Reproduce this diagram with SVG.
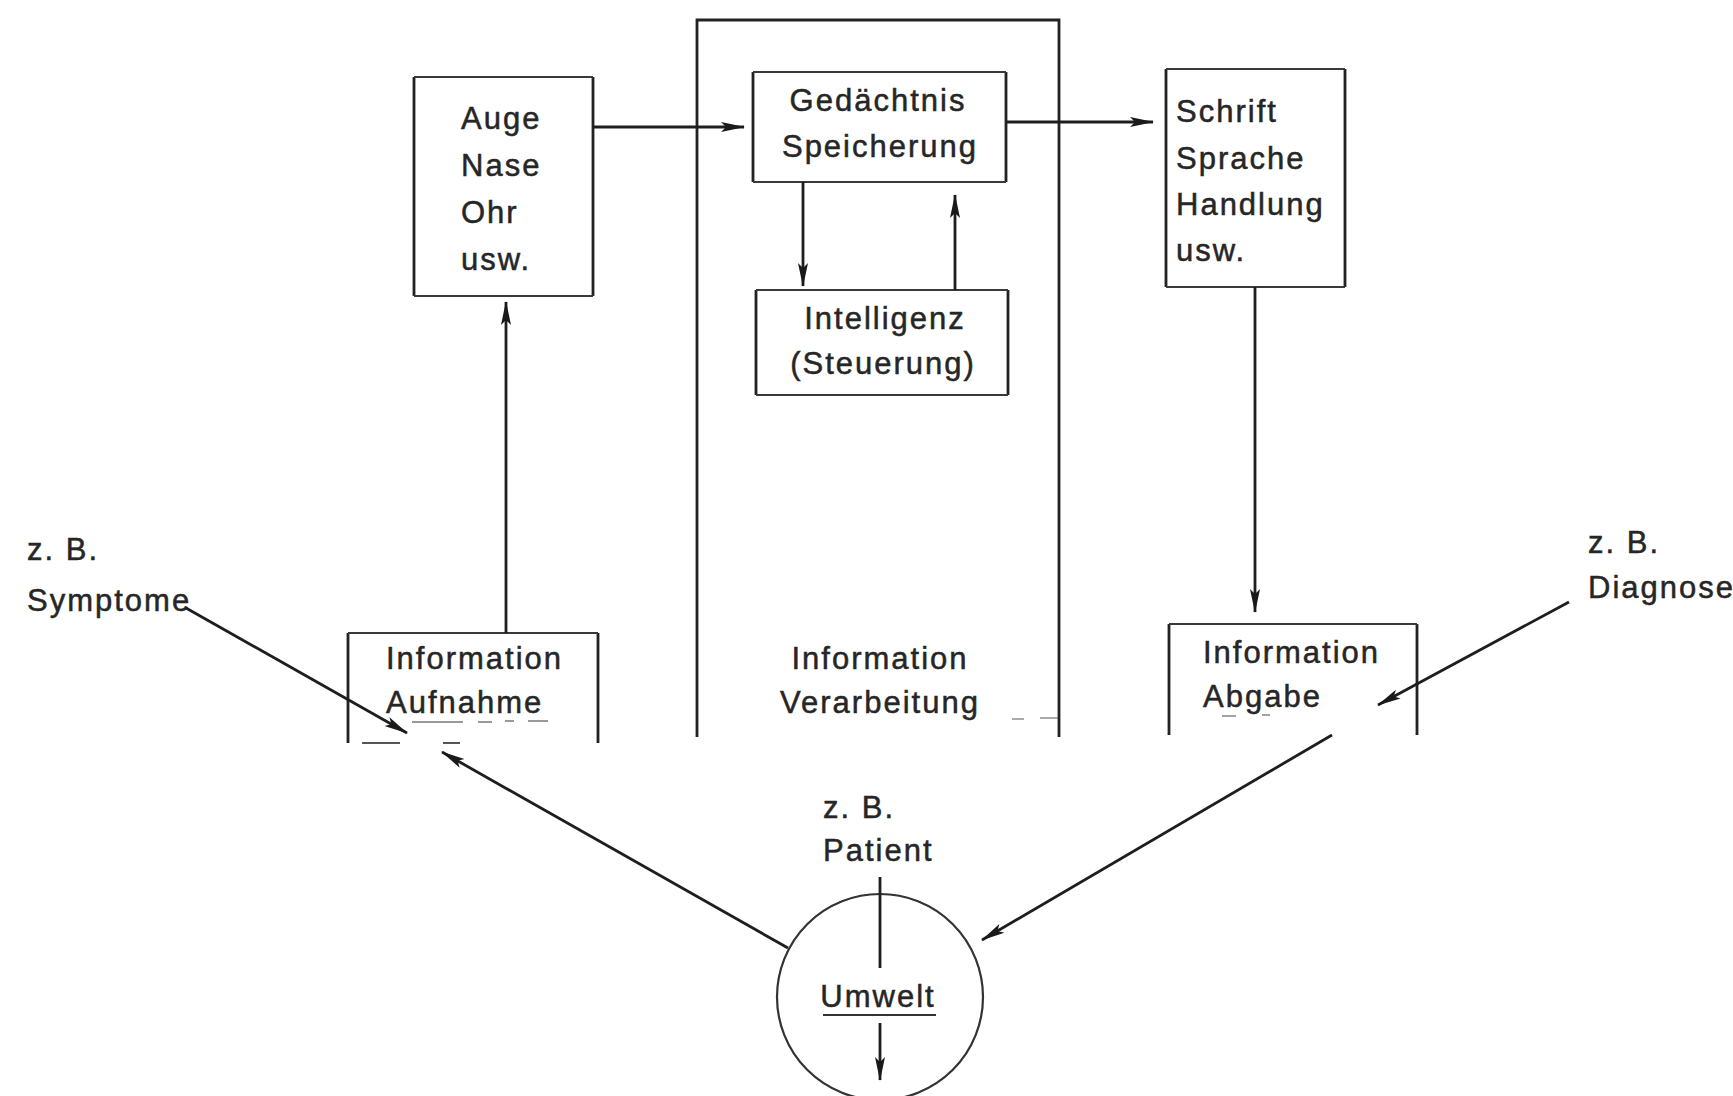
<svg xmlns="http://www.w3.org/2000/svg" width="1733" height="1096" viewBox="0 0 1733 1096">
  <style>
    .lbl { font-family: "Liberation Sans", Arial, sans-serif; font-size: 31px; letter-spacing: 2px; fill: #262626; stroke: #262626; stroke-width: 0.5; }
    .mid { text-anchor: middle; }
    .side { stroke: #222; stroke-width: 2.8; fill: none; }
    .edge { stroke: #3a3a3a; stroke-width: 2.2; fill: none; }
    .wire { stroke: #1e1e1e; stroke-width: 2.8; fill: none; }
    .thin { stroke: #333; stroke-width: 2.2; fill: none; }
    .faint { stroke: #555; stroke-width: 2; fill: none; }
  </style>
  <defs>
    <marker id="head" viewBox="0 0 24 12" refX="23" refY="6" markerWidth="24" markerHeight="12" markerUnits="userSpaceOnUse" orient="auto">
      <path d="M0,1 L24,6 L0,11 L5,6 Z" fill="#1a1a1a"/>
    </marker>
  </defs>
  <rect width="1733" height="1096" fill="#fff"/>

  <!-- processing frame, open at the bottom -->
  <g id="frame-verarbeitung">
    <path class="side" d="M697,737 V20 H1059 V737"/>
    <text class="lbl mid" x="880" y="669">Information</text>
    <text class="lbl mid" x="880" y="713">Verarbeitung</text>
    <path class="faint" d="M1012,719 H1024 M1040,718 H1058" stroke-opacity="0.5"/>
  </g>

  <g id="node-sinne">
    <path class="side" d="M414,77 V296 M593,77 V296"/>
    <path class="edge" d="M414,77 H593 M414,296 H593"/>
    <text class="lbl" x="461" y="129">Auge</text>
    <text class="lbl" x="461" y="176">Nase</text>
    <text class="lbl" x="461" y="223">Ohr</text>
    <text class="lbl" x="461" y="270">usw.</text>
  </g>

  <g id="node-gedaechtnis">
    <path class="side" d="M753,72 V182 M1006,72 V182"/>
    <path class="edge" d="M753,72 H1006 M753,182 H1006"/>
    <text class="lbl mid" x="878" y="111">Gedächtnis</text>
    <text class="lbl mid" x="880" y="157">Speicherung</text>
  </g>

  <g id="node-intelligenz">
    <path class="side" d="M756,290 V395 M1008,290 V395"/>
    <path class="edge" d="M756,290 H1008 M756,395 H1008"/>
    <text class="lbl mid" x="885" y="329">Intelligenz</text>
    <text class="lbl mid" x="883" y="374">(Steuerung)</text>
  </g>

  <g id="node-ausdruck">
    <path class="side" d="M1166,69 V287 M1345,69 V287"/>
    <path class="edge" d="M1166,69 H1345 M1166,287 H1345"/>
    <text class="lbl" x="1176" y="122">Schrift</text>
    <text class="lbl" x="1176" y="169">Sprache</text>
    <text class="lbl" x="1176" y="215">Handlung</text>
    <text class="lbl" x="1176" y="261">usw.</text>
  </g>

  <g id="node-aufnahme">
    <path class="side" d="M348,633 V743 M598,633 V743"/>
    <path class="edge" d="M348,633 H598"/>
    <path class="faint" d="M362,743 H400 M443,743 H460"/>
    <text class="lbl" x="386" y="669">Information</text>
    <text class="lbl" x="386" y="713">Aufnahme</text>
    <path class="faint" d="M412,722 H463 M478,722 H492 M505,721 H514 M528,721 H548" stroke-opacity="0.6"/>
  </g>

  <g id="node-abgabe">
    <path class="side" d="M1169,624 V735 M1417,624 V735"/>
    <path class="edge" d="M1169,624 H1417"/>
    <text class="lbl" x="1203" y="663">Information</text>
    <text class="lbl" x="1203" y="707">Abgabe</text>
    <path class="faint" d="M1222,716 H1236 M1262,715 H1270" stroke-opacity="0.55"/>
  </g>

  <g id="node-umwelt">
    <circle class="thin" cx="880" cy="997" r="103"/>
    <text class="lbl mid" x="878" y="1007">Umwelt</text>
    <path class="thin" d="M823,1015 H936"/>
  </g>

  <g id="label-symptome">
    <text class="lbl" x="27" y="560">z. B.</text>
    <text class="lbl" x="27" y="611">Symptome</text>
  </g>
  <g id="label-diagnose">
    <text class="lbl" x="1588" y="553">z. B.</text>
    <text class="lbl" x="1588" y="598">Diagnose</text>
  </g>
  <g id="label-patient">
    <text class="lbl" x="823" y="818">z. B.</text>
    <text class="lbl" x="823" y="861">Patient</text>
  </g>

  <g id="connectors">
    <line class="wire" x1="593" y1="127" x2="744" y2="127" marker-end="url(#head)"/>
    <line class="wire" x1="1006" y1="122" x2="1153" y2="122" marker-end="url(#head)"/>
    <line class="wire" x1="803" y1="182" x2="803" y2="286" marker-end="url(#head)"/>
    <line class="wire" x1="955" y1="290" x2="955" y2="195" marker-end="url(#head)"/>
    <line class="wire" x1="506" y1="633" x2="506" y2="302" marker-end="url(#head)"/>
    <line class="wire" x1="1255" y1="287" x2="1255" y2="612" marker-end="url(#head)"/>
    <line class="wire" x1="186" y1="608" x2="407" y2="733" marker-end="url(#head)"/>
    <line class="wire" x1="1569" y1="602" x2="1378" y2="705" marker-end="url(#head)"/>
    <line class="wire" x1="788" y1="948" x2="442" y2="752" marker-end="url(#head)"/>
    <line class="wire" x1="1332" y1="735" x2="982" y2="940" marker-end="url(#head)"/>
    <line class="wire" x1="880" y1="877" x2="880" y2="968"/>
    <line class="wire" x1="880" y1="1023" x2="880" y2="1080" marker-end="url(#head)"/>
  </g>
</svg>
